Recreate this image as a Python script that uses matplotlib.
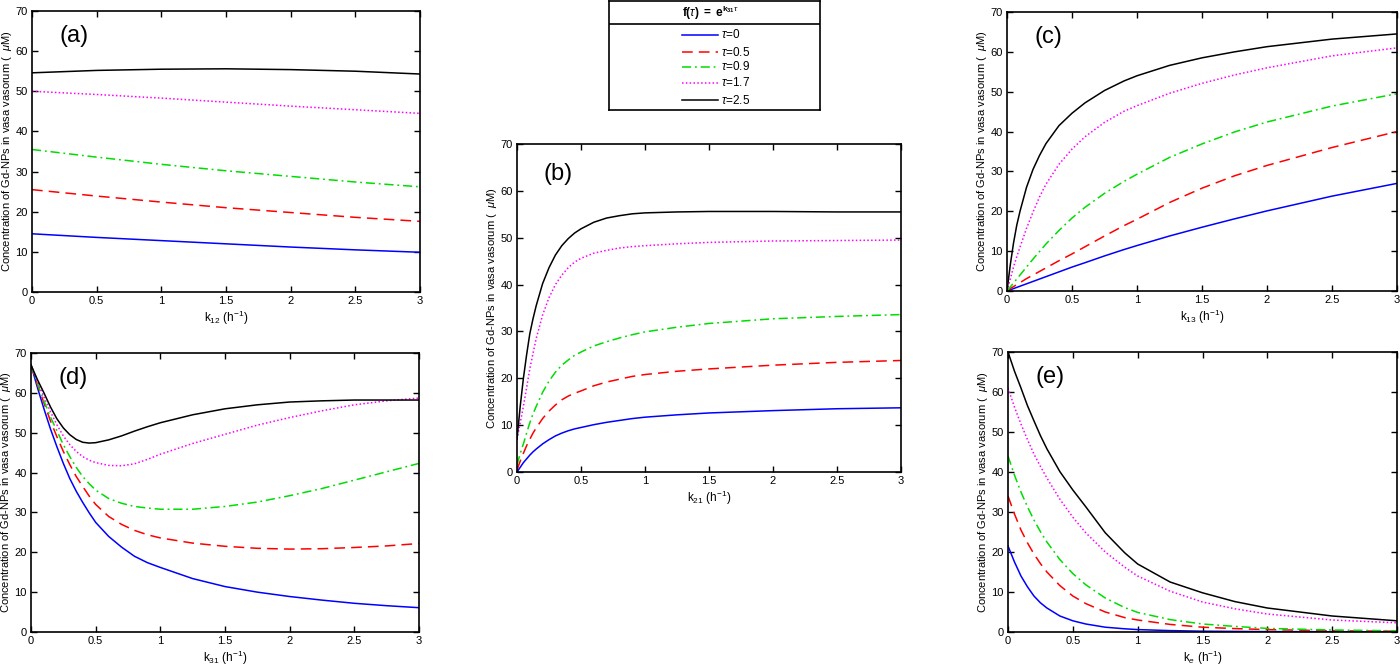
import matplotlib
matplotlib.use("Agg")
import matplotlib.pyplot as plt
from matplotlib.lines import Line2D

plt.rcParams['font.family'] = ['Liberation Sans', 'DejaVu Sans']
plt.rcParams['mathtext.fontset'] = 'custom'
plt.rcParams['mathtext.rm'] = 'Liberation Sans'
plt.rcParams['mathtext.it'] = 'Liberation Sans:italic'
plt.rcParams['mathtext.bf'] = 'Liberation Sans:bold'

# ---- data ----
taus = ['0', '0.5', '0.9', '1.7', '2.5']

# (a) k12
a_x = [0, 0.5, 1.0, 1.5, 2.0, 2.5, 3.0]
a_y = [
    [14.5, 13.6, 12.8, 12.0, 11.2, 10.5, 9.9],
    [25.5, 23.9, 22.4, 21.0, 19.8, 18.6, 17.6],
    [35.5, 33.6, 31.8, 30.2, 28.8, 27.4, 26.2],
    [50.0, 49.2, 48.3, 47.3, 46.3, 45.4, 44.5],
    [54.6, 55.2, 55.5, 55.6, 55.4, 55.0, 54.3],
]

# (b) k21
b_x = [0, 0.025, 0.05, 0.075, 0.1, 0.125, 0.15, 0.2, 0.25, 0.3, 0.35, 0.4, 0.45, 0.5,
       0.6, 0.7, 0.8, 0.9, 1.0, 1.25, 1.5, 2.0, 2.5, 3.0]
b_y = [
    [0, 1.0, 2.0, 2.8, 3.6, 4.3, 4.9, 6.0, 6.9, 7.7, 8.3, 8.8, 9.2, 9.5,
     10.1, 10.6, 11.0, 11.4, 11.7, 12.2, 12.6, 13.1, 13.5, 13.7],
    [0.5, 2.3, 4.0, 5.6, 7.0, 8.3, 9.4, 11.4, 13.0, 14.3, 15.4, 16.2, 16.8, 17.3,
     18.4, 19.2, 19.8, 20.4, 20.8, 21.5, 22.0, 22.8, 23.4, 23.8],
    [1.5, 3.9, 6.0, 8.3, 10.5, 12.4, 14.0, 17.0, 19.4, 21.3, 22.8, 23.9, 24.9, 25.6,
     26.9, 27.8, 28.6, 29.3, 29.9, 30.9, 31.7, 32.7, 33.2, 33.6],
    [7.0, 10.5, 14.0, 18.0, 22.0, 25.3, 28.5, 33.5, 37.2, 40.0, 42.0, 43.6, 44.8, 45.6,
     46.7, 47.3, 47.8, 48.1, 48.3, 48.7, 49.0, 49.3, 49.4, 49.5],
    [7.0, 14.0, 20.0, 25.0, 29.5, 32.7, 35.5, 40.2, 43.6, 46.3, 48.3, 49.8, 51.0, 51.9,
     53.3, 54.2, 54.7, 55.1, 55.3, 55.5, 55.6, 55.6, 55.5, 55.5],
]

# (c) k13
c_x = [0, 0.025, 0.05, 0.075, 0.1, 0.15, 0.2, 0.25, 0.3, 0.4, 0.5, 0.6, 0.75, 0.9,
       1.0, 1.25, 1.5, 1.75, 2.0, 2.5, 3.0]
c_y = [
    [0, 0.3, 0.6, 0.9, 1.2, 1.8, 2.4, 3.0, 3.6, 4.8, 6.0, 7.1, 8.8, 10.4,
     11.4, 13.8, 16.0, 18.1, 20.1, 23.8, 27.0],
    [0, 0.6, 1.1, 1.6, 2.1, 3.1, 4.0, 4.9, 5.8, 7.6, 9.3, 11.1, 13.8, 16.4,
     18.0, 22.2, 25.8, 28.9, 31.5, 36.0, 40.0],
    [0, 1.0, 2.0, 3.0, 4.0, 6.0, 8.0, 9.9, 11.8, 15.2, 18.3, 21.0, 24.5, 27.5,
     29.3, 33.5, 36.9, 39.9, 42.4, 46.4, 49.5],
    [0, 3.0, 6.0, 8.6, 11.0, 15.7, 19.8, 23.6, 26.8, 31.8, 35.6, 38.7, 42.3, 45.1,
     46.5, 49.6, 52.1, 54.2, 56.0, 59.0, 61.0],
    [0, 6.5, 12.0, 16.5, 20.0, 26.0, 30.5, 34.0, 37.0, 41.5, 44.6, 47.2, 50.3, 52.7,
     54.0, 56.6, 58.5, 60.0, 61.3, 63.2, 64.5],
]

# (d) k31
d_x = [0, 0.05, 0.1, 0.15, 0.2, 0.25, 0.3, 0.35, 0.4, 0.45, 0.5, 0.6, 0.7, 0.8, 0.9,
       1.0, 1.25, 1.5, 1.75, 2.0, 2.25, 2.5, 2.75, 3.0]
d_y = [
    [67, 61.3, 56.0, 51.0, 46.5, 42.3, 38.5, 35.3, 32.5, 29.9, 27.5, 24.0, 21.3, 19.0, 17.4,
     16.2, 13.4, 11.4, 10.0, 8.9, 8.0, 7.2, 6.6, 6.1],
    [67, 62.0, 57.5, 53.0, 49.0, 45.3, 42.0, 39.0, 36.5, 34.1, 32.0, 29.0, 27.0, 25.5, 24.4,
     23.6, 22.3, 21.5, 21.0, 20.8, 20.9, 21.2, 21.6, 22.2],
    [67, 62.3, 58.0, 54.0, 50.5, 47.0, 44.0, 41.3, 39.0, 37.2, 35.6, 33.5, 32.3, 31.5, 31.1,
     30.8, 30.8, 31.5, 32.6, 34.2, 36.0, 38.1, 40.2, 42.3],
    [67, 62.8, 59.0, 55.3, 52.0, 49.2, 47.0, 45.3, 44.0, 43.1, 42.5, 41.8, 41.7, 42.2, 43.3,
     44.6, 47.3, 49.6, 51.9, 53.8, 55.5, 57.0, 58.0, 58.7],
    [67, 63.3, 60.0, 56.5, 53.5, 51.2, 49.5, 48.3, 47.6, 47.4, 47.5, 48.2, 49.2, 50.4, 51.5,
     52.5, 54.5, 56.0, 57.0, 57.7, 58.0, 58.2, 58.2, 58.2],
]

# (e) ke
e_x = [0, 0.05, 0.1, 0.15, 0.2, 0.25, 0.3, 0.4, 0.5, 0.6, 0.75, 0.9, 1.0, 1.25, 1.5,
       1.75, 2.0, 2.5, 3.0]
e_y = [
    [21.5, 17.5, 14.0, 11.3, 9.0, 7.3, 6.0, 4.0, 2.8, 2.0, 1.2, 0.8, 0.6, 0.35, 0.2,
     0.15, 0.1, 0.07, 0.05],
    [34.0, 29.5, 25.5, 22.3, 19.5, 17.1, 15.0, 11.6, 9.0, 7.1, 5.0, 3.6, 3.0, 1.9, 1.2,
     0.85, 0.6, 0.3, 0.2],
    [44.0, 39.2, 35.0, 31.3, 28.0, 25.1, 22.5, 18.1, 14.6, 11.8, 8.5, 6.1, 4.9, 3.1, 2.0,
     1.4, 0.9, 0.5, 0.3],
    [61.0, 56.2, 52.0, 48.1, 44.5, 41.4, 38.5, 33.2, 28.7, 24.8, 20.0, 16.2, 14.0, 10.2, 7.5,
     5.8, 4.5, 3.0, 2.3],
    [70.0, 65.2, 61.0, 56.6, 52.8, 49.1, 45.8, 40.1, 35.5, 31.3, 24.8, 19.8, 17.0, 12.5, 9.8,
     7.6, 6.0, 4.0, 2.8],
]

colors = ['#0000ff', '#ff0000', '#00dd00', '#ff00ff', '#000000']
styles = ['-', (0, (7, 4)), (0, (6, 2.5, 1.2, 2.5)), (0, (1, 1.5)), '-']

ylab = r'Concentration of Gd-NPs in vasa vasorum (  $\mathit{\mu}$M)'

W, H = 1400, 669
fig = plt.figure(figsize=(14, 6.69), dpi=100)


def px_axes(l, t, r, b):
    return fig.add_axes([l / W, 1 - b / H, (r - l) / W, (b - t) / H])


def panel(ax, x, ys, label, xlab):
    for i in range(len(ys)):
        ax.plot(x, ys[i], color=colors[i], linestyle=styles[i], lw=1.1)
    ax.set_xlim(0, 3)
    ax.set_ylim(0, 70)
    ax.set_xticks([0, 0.5, 1, 1.5, 2, 2.5, 3])
    ax.set_xticklabels(['0', '0.5', '1', '1.5', '2', '2.5', '3'])
    ax.set_yticks(range(0, 71, 10))
    ax.tick_params(direction='in', top=True, right=True, length=4, width=1,
                   labelsize=8, pad=3)
    for s in ax.spines.values():
        s.set_linewidth(1.2)
    ax.set_xlabel(xlab, fontsize=8.5, labelpad=2)
    ax.set_ylabel(ylab, fontsize=8, labelpad=1)
    ax.text(0.07, 0.91, label, transform=ax.transAxes, fontsize=17,
            va='center', ha='left')


ax_a = px_axes(32, 11, 420, 292)
panel(ax_a, a_x, a_y, '(a)', r'k$_{12}$ (h$^{-1}$)')
ax_b = px_axes(517, 144, 901, 472)
panel(ax_b, b_x, b_y, '(b)', r'k$_{21}$ (h$^{-1}$)')
ax_c = px_axes(1007, 12, 1397, 291)
panel(ax_c, c_x, c_y, '(c)', r'k$_{13}$ (h$^{-1}$)')
ax_d = px_axes(31, 353, 419, 632)
panel(ax_d, d_x, d_y, '(d)', r'k$_{31}$ (h$^{-1}$)')
ax_e = px_axes(1008, 352, 1397, 632)
panel(ax_e, e_x, e_y, '(e)', r'k$_{e}$ (h$^{-1}$)')

# legend box
lg = px_axes(609, 1, 820, 110)
lg.set_xlim(0, 211)
lg.set_ylim(109, 0)
lg.set_xticks([])
lg.set_yticks([])
for s in lg.spines.values():
    s.set_linewidth(1.2)
lg.axhline(23, color='black', lw=1.2)
lg.text(101, 12, r'$\mathbf{f(}\mathit{\tau}\mathbf{)\ =\ e}^{\mathbf{k}_{\mathbf{31}}\mathit{\tau}}$',
        ha='center', va='center', fontsize=8.5)
rows = [34, 51, 66, 82, 99]
for i in range(5):
    lg.add_line(Line2D([73, 109], [rows[i], rows[i]], color=colors[i],
                       linestyle=styles[i], lw=1.1))
    lg.text(112, rows[i], r'$\mathit{\tau}$=' + taus[i], va='center', ha='left',
            fontsize=8.5)

fig.savefig('out.png', dpi=100)
